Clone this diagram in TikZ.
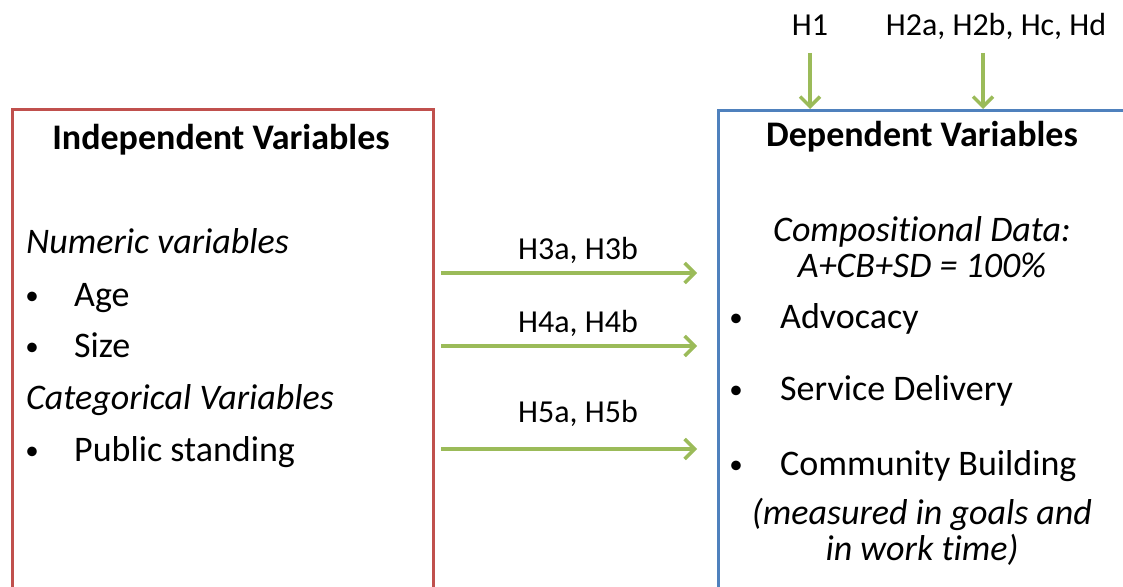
\documentclass[tikz,border=0pt]{standalone}
\usepackage{fontspec}
\setmainfont[Ligatures=CommonOff]{Carlito}
\usetikzlibrary{arrows.meta}
\definecolor{boxred}{HTML}{C0504D}
\definecolor{boxblue}{HTML}{4F81BD}
\definecolor{arrgreen}{HTML}{9BBB59}
\tikzset{
  x=1pt, y=-1pt,
  varbox/.style={draw, line width=2.5pt, rectangle, inner sep=0pt},
  body/.style={inner sep=0pt, font=\fontsize{36}{43}\selectfont},
  title/.style={body, font=\fontsize{36}{43}\selectfont\bfseries},
  dot/.style={inner sep=0pt, font=\fontsize{27}{30}\selectfont},
  hlabel/.style={inner sep=0pt, font=\fontsize{32}{38}\selectfont},
  hyp/.style={draw=arrgreen, line width=3.5pt, -{Straight Barb[length=10pt,width=20pt]}},
}
\begin{document}
\begin{tikzpicture}
\useasboundingbox (0,0) rectangle (1123,586);
\clip (0,0) rectangle (1123,586);

% the two variable boxes (they run past the lower edge)
\node[varbox, draw=boxred, minimum width=421pt, minimum height=520pt, anchor=north west] (indep) at (11,108) {};
\node[varbox, draw=boxblue, minimum width=440pt, minimum height=520pt, anchor=north west] (dep) at (717,109) {};

% independent variables
\node[title, anchor=base] (ititle) at (221,149) {Independent Variables};
\node[body, anchor=base west] (num) at (26,253) {\itshape Numeric variables};
\node[dot, anchor=base] (b1) at (32,304) {•};
\node[body, anchor=base west] (age) at (74,306) {Age};
\node[dot, anchor=base] (b2) at (32,355) {•};
\node[body, anchor=base west] (size) at (74,357) {Size};
\node[body, anchor=base west] (cat) at (26,409) {\itshape Categorical Variables};
\node[dot, anchor=base] (b3) at (32,459) {•};
\node[body, anchor=base west] (pub) at (74,461) {Public standing};

% dependent variables
\node[title, anchor=base] (dtitle) at (922,146) {Dependent Variables};
\node[body, anchor=base] (comp) at (922,241) {\itshape Compositional Data:};
\node[body, anchor=base] (sum) at (922,277) {\itshape A+CB+SD = 100\%};
\node[dot, anchor=base] (b4) at (736,326) {•};
\node[body, anchor=base west] (adv) at (780,328) {Advocacy};
\node[dot, anchor=base] (b5) at (736,398) {•};
\node[body, anchor=base west] (serv) at (780,400) {Service Delivery};
\node[dot, anchor=base] (b6) at (736,473) {•};
\node[body, anchor=base west] (comm) at (780,475) {Community Building};
\node[body, anchor=base] (meas1) at (922,524) {\itshape (measured in goals and};
\node[body, anchor=base] (meas2) at (922,560) {\itshape in work time)};

% hypotheses acting on the dependent variables
\node[hlabel, anchor=base] (h1) at (810,36) {H1};
\node[hlabel, anchor=base] (h2) at (996,36) {H2a, H2b, Hc, Hd};
\coordinate (h1s) at (810,53);
\coordinate (h2s) at (983,53);
\draw[hyp] (h1s) -- (h1s |- dep.north);
\draw[hyp] (h2s) -- (h2s |- dep.north);

% hypotheses linking the two sets of variables
\coordinate (s3) at (441,273); \coordinate (e3) at (697,273);
\coordinate (s4) at (441,346); \coordinate (e4) at (697,346);
\coordinate (s5) at (441,449); \coordinate (e5) at (697,449);
\draw[hyp] (s3) -- (e3);
\draw[hyp] (s4) -- (e4);
\draw[hyp] (s5) -- (e5);
\node[hlabel, anchor=base] (h3) at (578,259) {H3a, H3b};
\node[hlabel, anchor=base] (h4) at (578,332) {H4a, H4b};
\node[hlabel, anchor=base] (h5) at (578,422) {H5a, H5b};
\end{tikzpicture}
\end{document}
